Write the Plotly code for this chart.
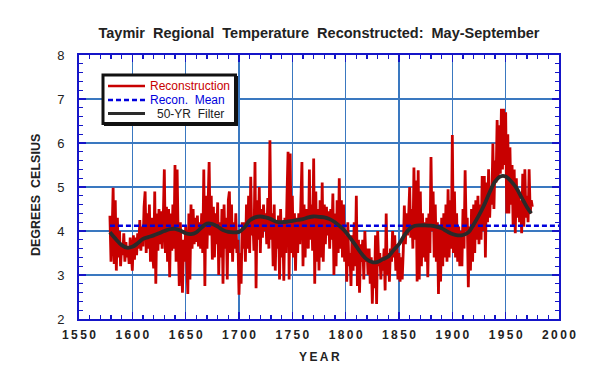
import plotly.graph_objects as go

START_YEAR = 1579
recon = [
    4.35, 3.30, 3.90, 4.98, 3.25, 4.70, 3.10, 4.30, 3.40, 4.00,
    3.20, 3.70, 3.45, 3.95, 3.30, 3.75, 3.40, 3.60, 3.25, 3.85,
    3.55, 3.10, 3.90, 3.35, 3.85, 3.45, 3.95, 3.60, 4.25, 3.55,
    4.10, 3.65, 4.55, 4.90, 3.50, 4.40, 3.60, 4.60, 3.30, 4.30,
    3.50, 3.15, 4.90, 2.80, 4.40, 3.55, 4.50, 3.70, 4.45, 3.60,
    4.30, 5.40, 3.50, 4.55, 3.30, 4.50, 2.95, 4.40, 3.55, 4.60,
    3.60, 5.50, 3.30, 5.40, 3.80, 2.75, 4.20, 3.10, 2.60, 3.80,
    3.30, 4.10, 3.20, 2.57, 4.40, 2.90, 4.60, 3.60, 4.50, 3.70,
    4.30, 3.75, 4.35, 3.65, 4.20, 3.60, 4.40, 3.50, 5.40, 2.75,
    4.80, 3.60, 4.60, 5.57, 3.90, 4.80, 3.35, 4.55, 3.40, 4.40,
    3.70, 4.65, 3.00, 4.20, 3.40, 4.50, 2.80, 4.60, 3.60, 4.30,
    2.90, 4.70, 4.90, 3.50, 4.60, 3.30, 4.20, 3.60, 4.40, 3.50,
    3.80, 2.55, 3.50, 2.80, 4.20, 3.60, 4.20, 3.30, 4.60, 3.60,
    4.80, 3.50, 5.23, 3.90, 4.30, 3.55, 5.57, 2.70, 4.70, 3.80,
    5.00, 3.50, 4.50, 3.85, 4.60, 4.00, 4.40, 3.70, 4.75, 3.60,
    6.06, 3.80, 4.40, 3.20, 4.60, 3.10, 4.20, 3.60, 4.35, 2.90,
    4.50, 3.40, 4.20, 2.87, 4.30, 3.50, 4.80, 5.80, 2.90, 5.76,
    3.50, 4.80, 3.40, 4.40, 3.10, 4.30, 3.50, 4.40, 3.70, 4.60,
    5.57, 3.20, 4.60, 3.40, 4.50, 3.80, 3.60, 5.40, 3.80, 4.60,
    3.55, 5.65, 2.80, 4.90, 3.30, 4.50, 3.10, 4.70, 3.40, 5.10,
    3.30, 4.60, 3.70, 4.55, 3.90, 4.45, 3.60, 4.50, 3.80, 4.85,
    3.00, 4.40, 3.20, 4.70, 3.50, 5.20, 3.60, 4.70, 3.40, 4.60,
    3.30, 3.90, 2.85, 4.20, 3.20, 3.50, 2.75, 3.90, 3.10, 4.20,
    3.20, 4.80, 2.75, 3.80, 2.60, 3.70, 3.30, 3.80, 2.90, 4.00,
    3.30, 3.60, 3.00, 3.60, 2.80, 3.40, 2.35, 3.30, 2.70, 3.90,
    2.34, 4.00, 3.20, 3.50, 2.90, 3.40, 3.10, 3.60, 2.65, 4.40,
    3.00, 3.50, 2.85, 3.60, 3.30, 4.00, 3.40, 3.90, 3.10, 3.70,
    2.90, 3.50, 2.85, 3.40, 2.90, 3.55, 4.58, 3.70, 4.40, 3.90,
    4.30, 5.00, 3.85, 4.50, 3.60, 5.44, 3.80, 5.15, 2.85, 5.38,
    2.90, 4.90, 3.20, 4.40, 3.40, 4.20, 3.30, 4.30, 2.95, 4.40,
    3.50, 5.68, 4.00, 4.90, 3.40, 4.60, 3.30, 4.20, 2.57, 4.10,
    2.85, 4.30, 3.20, 4.40, 3.40, 4.60, 3.30, 4.95, 3.40, 4.70,
    3.60, 6.18, 3.50, 4.90, 3.40, 4.40, 3.30, 4.10, 3.20, 4.00,
    3.20, 4.50, 3.60, 5.38, 4.00, 4.30, 2.72, 4.10, 3.10, 4.50,
    3.30, 4.60, 3.50, 4.70, 3.80, 4.80, 3.70, 4.60, 3.80, 5.25,
    4.00, 5.25, 3.40, 5.10, 4.20, 5.40, 4.30, 5.00, 4.60, 5.99,
    4.50, 5.60, 5.10, 6.52, 5.20, 6.40, 5.30, 6.78, 5.40, 6.78,
    5.50, 6.70, 4.40, 6.20, 4.40, 5.90, 4.60, 5.50, 4.10, 5.40,
    3.95, 5.20, 4.30, 4.90, 4.20, 4.70, 3.95, 5.30, 4.10, 5.40,
    4.30, 4.80, 4.20, 5.40, 4.40, 4.70, 4.55,
]
years = list(range(START_YEAR, START_YEAR + len(recon)))

filter_years = [1579, 1585, 1590, 1595, 1600, 1605, 1610, 1615, 1620, 1625,
                1630, 1635, 1640, 1645, 1650, 1655, 1660, 1665, 1670, 1675,
                1680, 1685, 1690, 1695, 1700, 1705, 1710, 1715, 1720, 1725,
                1730, 1735, 1740, 1745, 1750, 1755, 1760, 1765, 1770, 1775,
                1780, 1785, 1790, 1795, 1800, 1805, 1810, 1815, 1820, 1825,
                1830, 1835, 1840, 1845, 1850, 1855, 1860, 1865, 1870, 1875,
                1880, 1885, 1890, 1895, 1900, 1905, 1910, 1915, 1920, 1925,
                1930, 1935, 1940, 1945, 1950, 1955, 1960, 1965, 1970, 1974]
filter_vals = [3.97, 3.80, 3.68, 3.62, 3.64, 3.72, 3.82, 3.86, 3.90, 3.95,
               4.00, 4.04, 4.05, 4.01, 3.95, 3.93, 3.97, 4.08, 4.17, 4.16,
               4.10, 4.02, 3.98, 3.97, 3.98, 4.08, 4.24, 4.31, 4.33, 4.31,
               4.27, 4.21, 4.20, 4.21, 4.23, 4.25, 4.27, 4.31, 4.33, 4.32,
               4.31, 4.27, 4.20, 4.10, 3.98, 3.82, 3.65, 3.48, 3.35, 3.29,
               3.30, 3.36, 3.42, 3.57, 3.70, 3.90, 4.05, 4.12, 4.13, 4.13,
               4.12, 4.10, 4.06, 3.99, 3.93, 3.90, 3.91, 3.97, 4.15, 4.36,
               4.60, 4.88, 5.12, 5.24, 5.24, 5.13, 4.98, 4.76, 4.54, 4.40]

RECON_MEAN = 4.12
X_RANGE = [1550, 2000]
Y_RANGE = [2, 8]
x_tick_vals = [1550, 1600, 1650, 1700, 1750, 1800, 1850, 1900, 1950, 2000]
y_tick_vals = [2, 3, 4, 5, 6, 7, 8]
legend_labels = ["Reconstruction", "Recon.  Mean", "50-YR  Filter"]

FONT = "Liberation Sans, Arial, Helvetica, sans-serif"
GRID = "#3a78c0"
AXIS = "#1515c8"
TXT = "#222222"
RED = "#c80000"
BLUE = "#0000dd"
BLACK = "#2a2a2a"

# plot area in pixels
PL, PT, PW, PH = 79, 55, 480, 264
W, H = 610, 381

def px(x):
    return (x - PL) / PW

def py(y):
    return (PT + PH - y) / PH

def spaced(s):
    return "\u2009".join(list(s))

fig = go.Figure()
fig.add_trace(go.Scatter(
    x=years, y=recon, mode="lines",
    line=dict(color=RED, width=2.8), name=legend_labels[0], showlegend=False,
))
fig.add_trace(go.Scatter(
    x=[years[0], X_RANGE[1]], y=[RECON_MEAN, RECON_MEAN], mode="lines",
    line=dict(color=BLUE, width=2.6, dash="5px,3px"), name=legend_labels[1], showlegend=False,
))
fig.add_trace(go.Scatter(
    x=filter_years, y=filter_vals, mode="lines",
    line=dict(color=BLACK, width=3.8, shape="spline", smoothing=1.0), name=legend_labels[2], showlegend=False,
))

# legend box (drawn manually to match the reference's compact layout)
shapes = [
    dict(type="rect", xref="paper", yref="paper", x0=px(104), x1=px(238), y0=py(126), y1=py(76),
         line=dict(width=0), fillcolor="#111111", layer="above"),
    dict(type="rect", xref="paper", yref="paper", x0=px(103), x1=px(235.5), y0=py(123.5), y1=py(75),
         line=dict(width=3, color="#111111"), fillcolor="white", layer="above"),
]
legend_rows = [(86, RED, "solid", 2.4, 148), (100, BLUE, "5px,3px", 2.6, 148), (113.5, BLACK, "solid", 3, 155)]
for (yy, col, dash, wid, tx), lab in zip(legend_rows, legend_labels):
    shapes.append(dict(type="line", xref="paper", yref="paper", x0=px(108), x1=px(145), y0=py(yy), y1=py(yy),
                       line=dict(color=col, width=wid, dash=dash), layer="above"))
    fig.add_annotation(text=lab, xref="paper", yref="paper", x=px(tx), y=py(yy), xanchor="left", yanchor="middle",
                       showarrow=False, font=dict(size=12, family=FONT, color=(TXT if col == BLACK else col)))

fig.update_layout(
    width=W, height=H,
    margin=dict(l=PL, r=W - PL - PW, t=PT, b=H - PT - PH),
    paper_bgcolor="white", plot_bgcolor="white",
    font=dict(family=FONT, color=TXT, size=12),
    title=dict(
        text="<b>Taymir  Regional  Temperature  Reconstructed:  May-September</b>",
        x=0.5, xref="paper", xanchor="center", y=1 - 33 / H, yanchor="middle",
        font=dict(size=14.5, family=FONT, color=TXT),
    ),
    showlegend=False,
    shapes=shapes,
)

fig.update_xaxes(
    range=X_RANGE, tickvals=x_tick_vals,
    ticktext=["<b>" + spaced(str(v)) + "</b>" for v in x_tick_vals],
    tickfont=dict(size=12, family=FONT, color=TXT),
    showgrid=True, gridcolor=GRID, gridwidth=1.3,
    ticks="inside", ticklen=7, tickcolor=AXIS, tickwidth=1.5,
    showline=True, linecolor=AXIS, linewidth=2, mirror="allticks",
    minor=dict(dtick=10, tick0=1550, ticks="inside", ticklen=4, tickcolor=AXIS, tickwidth=1.2, showgrid=False),
    zeroline=False, ticklabelstandoff=4,
)
fig.update_yaxes(
    range=Y_RANGE, tickvals=y_tick_vals,
    ticktext=[str(v) for v in y_tick_vals],
    tickfont=dict(size=13, family=FONT, color=TXT),
    showgrid=True, gridcolor=GRID, gridwidth=1.3,
    ticks="inside", ticklen=7, tickcolor=AXIS, tickwidth=1.5,
    showline=True, linecolor=AXIS, linewidth=2, mirror="allticks",
    minor=dict(dtick=0.2, tick0=2, ticks="inside", ticklen=4, tickcolor=AXIS, tickwidth=1.2, showgrid=False),
    zeroline=False, ticklabelstandoff=10,
)

fig.add_annotation(
    text="<b>" + spaced("YEAR") + "</b>", xref="paper", yref="paper",
    x=0.5, y=py(357), xanchor="center", yanchor="middle",
    showarrow=False, font=dict(size=12, family=FONT, color=TXT),
)
fig.add_annotation(
    text="<b>DEGREES  CELSIUS</b>", xref="paper", yref="paper",
    x=px(36), y=py(195), xanchor="center", yanchor="middle",
    textangle=-90, showarrow=False, font=dict(size=12.5, family=FONT, color=TXT),
)

fig.write_html(
    "out.html",
    config={"displayModeBar": False, "staticPlot": True},
    post_script="document.body.style.margin='0px';document.body.style.overflow='hidden';",
)
